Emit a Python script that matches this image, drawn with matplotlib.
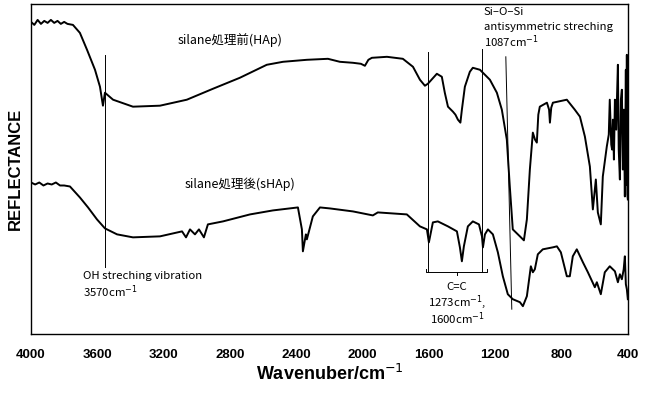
import numpy as np
import matplotlib
matplotlib.use("Agg")
import matplotlib.pyplot as plt

# silane処理前 (HAp): wavenumber, reflectance (arb.)
hap_wn = [4000, 3980, 3960, 3940, 3920, 3900, 3880, 3860, 3840, 3820, 3800, 3780, 3747, 3705,
          3662, 3614, 3584, 3566, 3554, 3505, 3385,
          3222, 3060, 2902, 2740, 2578, 2480, 2336, 2209, 2137, 2058, 2010, 1986, 1965, 1944,
          1853, 1757, 1696, 1654, 1624, 1606, 1552, 1522, 1504, 1485, 1455, 1440, 1425, 1410,
          1401, 1383, 1353, 1335, 1292, 1232, 1190, 1160, 1130, 1112, 1094, 1051, 1027, 1009,
          991, 973, 960, 949, 940, 931, 888, 875, 870, 862, 852, 768, 720, 689, 659, 629, 611,
          593, 581, 563, 551, 527, 515, 509, 500, 495, 490, 484, 478, 470, 465, 460, 455, 448,
          442, 436, 430, 424, 418, 412, 409, 406, 403, 400]
hap_r = [313, 310, 315, 311, 314, 312, 315, 312, 314, 311, 313, 311, 310, 302,
         285, 265, 248, 229, 242, 235, 228,
         229, 235, 246, 257, 270, 273, 275, 276, 273, 272, 271, 269, 275, 277,
         278, 276, 268, 255, 249, 251, 261, 258, 242, 228, 223, 220, 215, 212,
         225, 248, 263, 267, 265, 255, 242, 225, 195, 148, 105, 98, 94, 115,
         165, 202, 195, 192, 220, 228, 232, 225, 212, 227, 232, 235, 225, 218, 198, 168, 125,
         155, 122, 110, 158, 188, 200, 235, 190, 185, 215, 175, 235, 205, 240, 270, 185, 155,
         235, 245, 165, 225, 138, 265, 150, 280, 140, 135]

# silane処理後 (sHAp)
shap_wn = [4000, 3975, 3950, 3925, 3900, 3875, 3850, 3825, 3800, 3765, 3705, 3656, 3602, 3554,
           3481, 3385, 3222, 3089,
           3065, 3041, 3011, 2987, 2957, 2933, 2842, 2679, 2541, 2390, 2366, 2360, 2342, 2336,
           2300, 2257, 2197, 2058, 1938, 1908, 1733, 1654, 1612, 1600, 1576, 1546, 1485, 1431,
           1413, 1401, 1389, 1365, 1335, 1298, 1280, 1274, 1262, 1244, 1214, 1184, 1154, 1124,
           1094, 1051, 1033, 1009, 985, 973, 961, 943, 913, 852, 828, 804, 768, 750, 732, 708,
           671, 641, 599, 587, 563, 539, 509, 478, 460, 448, 436, 425, 418, 412, 406, 400]
shap_r = [152, 150, 152, 149, 151, 150, 152, 149, 149, 148, 137, 127, 115, 106,
          100, 97, 98, 103,
          97, 105, 100, 105, 97, 110, 113, 120, 124, 127, 105, 83, 100, 95,
          118, 127, 126, 123, 119, 122, 120, 108, 105, 92, 112, 113, 108, 103,
          87, 73, 88, 108, 113, 110, 98, 87, 100, 105, 100, 82, 58, 40,
          35, 32, 28, 38, 68, 62, 65, 80, 85, 87, 88, 82, 58, 58, 78, 85,
          72, 62, 47, 52, 40, 62, 68, 63, 52, 60, 55, 65, 78, 50, 45, 35]

xticks = [4000, 3600, 3200, 2800, 2400, 2000, 1600, 1200, 800, 400]

cjk = ['Noto Sans CJK JP', 'DejaVu Sans']
small = 8.2

fig = plt.figure(figsize=(6.54, 3.94), dpi=100)
ax = fig.add_axes([0.0474, 0.152, 0.9126, 0.838])

ax.plot(hap_wn, hap_r, color='black', lw=1.4)
ax.plot(shap_wn, shap_r, color='black', lw=1.4)

# marker lines
ax.plot([3555, 3555], [67, 280], color='black', lw=0.7)
ax.plot([1606, 1606], [62, 283], color='black', lw=0.7)
ax.plot([1280, 1280], [62, 286], color='black', lw=0.7)
ax.plot([1136, 1100], [278, 25], color='black', lw=0.7)

# bracket for C=C
ax.plot([1615, 1615, 1247, 1247], [65, 62, 62, 65], color='black', lw=0.7)
ax.plot([1431, 1431], [62, 59], color='black', lw=0.7)

ax.text(2800, 295, 'silane処理前(HAp)', family=cjk, fontsize=9, ha='center', va='center')
ax.text(2740, 150, 'silane処理後(sHAp)', family=cjk, fontsize=9, ha='center', va='center')
ax.text(1268, 323, 'Si–O–Si', family=cjk, fontsize=small, ha='left', va='center')
ax.text(1268, 308, 'antisymmetric streching', family=cjk, fontsize=small, ha='left', va='center')
ax.text(1268, 293, '1087cm$^{-1}$', family=cjk, fontsize=small, ha='left', va='center')
ax.text(3686, 58, 'OH streching vibration', family=cjk, fontsize=small, ha='left', va='center')
ax.text(3686, 43, '3570cm$^{-1}$', family=cjk, fontsize=small, ha='left', va='center')
ax.text(1431, 47, 'C=C', family=cjk, fontsize=small, ha='center', va='center')
ax.text(1431, 32, '1273cm$^{-1}$,', family=cjk, fontsize=small, ha='center', va='center')
ax.text(1431, 15, '1600cm$^{-1}$', family=cjk, fontsize=small, ha='center', va='center')

ax.set_xlim(4000, 400)
ax.set_ylim(0, 331)
ax.set_xticks(xticks)
ax.set_xticklabels([str(t) for t in xticks], fontweight='bold', fontsize=9.5,
                   family=['Liberation Sans Narrow', 'Liberation Sans'])
ax.set_yticks([])
ax.tick_params(axis='x', length=0, pad=11)
for s in ax.spines.values():
    s.set_linewidth(1.0)

ax.set_xlabel('Wavenuber/cm$^{-1}$', fontsize=13, fontweight='bold', family='Liberation Sans', labelpad=2)
ax.set_ylabel('REFLECTANCE', fontsize=12, fontweight='bold', family='Liberation Sans', labelpad=6)

fig.savefig('out.png', dpi=100)
